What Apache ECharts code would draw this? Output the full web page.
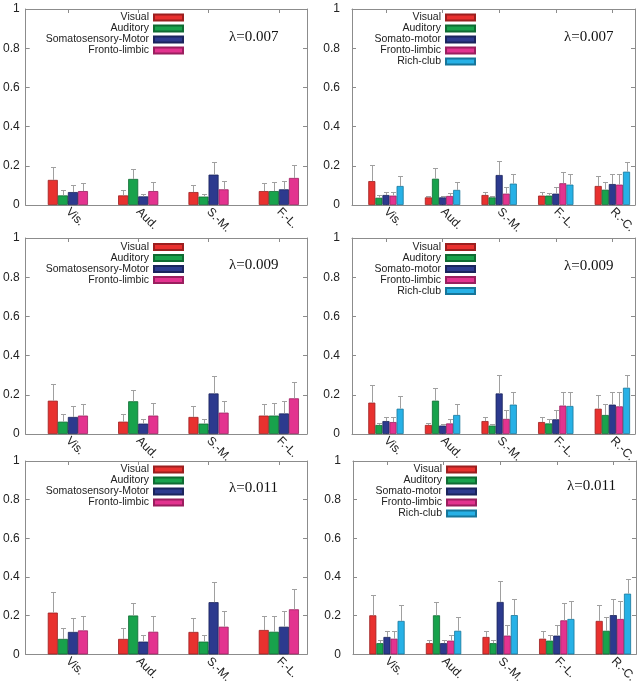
<!DOCTYPE html>
<html>
<head>
<meta charset="utf-8">
<script src="https://cdn.jsdelivr.net/npm/echarts@6/dist/echarts.min.js"></script>
<style>
html,body{margin:0;padding:0;background:#fff;}
#chart{width:640px;height:686px;}
</style>
</head>
<body>
<div id="chart"></div>
<script>
// ---- categories / labels ----
const cats4 = ['Vis.', 'Aud.', 'S.-M.', 'F.-L.'];
const cats5 = ['Vis.', 'Aud.', 'S.-M.', 'F.-L.', 'R.-C.'];
const names4 = ['Visual', 'Auditory', 'Somatosensory-Motor', 'Fronto-limbic'];
const names5 = ['Visual', 'Auditory', 'Somato-motor', 'Fronto-limbic', 'Rich-club'];
const yTicks = [0, 0.2, 0.4, 0.6, 0.8, 1];

// ---- λ=0.007, 4 groups (mean, upper error bound) ----
const L007_visual = [0.128, 0.049, 0.066, 0.071];
const L007_visual_hi = [0.194, 0.077, 0.102, 0.114];
const L007_auditory = [0.049, 0.133, 0.043, 0.071];
const L007_auditory_hi = [0.077, 0.184, 0.058, 0.117];
const L007_somato = [0.066, 0.044, 0.155, 0.080];
const L007_somato_hi = [0.102, 0.058, 0.219, 0.124];
const L007_fronto = [0.071, 0.071, 0.080, 0.138];
const L007_fronto_hi = [0.114, 0.117, 0.124, 0.204];

// ---- λ=0.007, 5 groups ----
const R007_visual = [0.122, 0.039, 0.051, 0.048, 0.097];
const R007_visual_hi = [0.205, 0.048, 0.066, 0.066, 0.148];
const R007_auditory = [0.037, 0.134, 0.039, 0.048, 0.078];
const R007_auditory_hi = [0.049, 0.189, 0.046, 0.063, 0.117];
const R007_somato = [0.051, 0.039, 0.153, 0.058, 0.107];
const R007_somato_hi = [0.066, 0.046, 0.224, 0.094, 0.160];
const R007_fronto = [0.048, 0.046, 0.058, 0.111, 0.104];
const R007_fronto_hi = [0.068, 0.063, 0.092, 0.168, 0.160];
const R007_rich = [0.097, 0.077, 0.109, 0.104, 0.170];
const R007_rich_hi = [0.148, 0.117, 0.160, 0.160, 0.221];

// ---- λ=0.009, 4 groups ----
const L009_visual = [0.170, 0.063, 0.087, 0.094];
const L009_visual_hi = [0.255, 0.104, 0.141, 0.153];
const L009_auditory = [0.063, 0.167, 0.053, 0.094];
const L009_auditory_hi = [0.104, 0.226, 0.078, 0.156];
const L009_somato = [0.087, 0.053, 0.207, 0.105];
const L009_somato_hi = [0.141, 0.078, 0.294, 0.170];
const L009_fronto = [0.094, 0.094, 0.109, 0.182];
const L009_fronto_hi = [0.153, 0.156, 0.170, 0.267];

// ---- λ=0.009, 5 groups ----
const R009_visual = [0.160, 0.046, 0.066, 0.061, 0.129];
const R009_visual_hi = [0.250, 0.058, 0.088, 0.088, 0.197];
const R009_auditory = [0.046, 0.170, 0.043, 0.054, 0.097];
const R009_auditory_hi = [0.058, 0.235, 0.053, 0.078, 0.155];
const R009_somato = [0.066, 0.043, 0.207, 0.075, 0.150];
const R009_somato_hi = [0.088, 0.053, 0.301, 0.122, 0.216];
const R009_fronto = [0.061, 0.054, 0.077, 0.145, 0.141];
const R009_fronto_hi = [0.088, 0.078, 0.124, 0.216, 0.216];
const R009_rich = [0.129, 0.097, 0.150, 0.143, 0.236];
const R009_rich_hi = [0.196, 0.155, 0.216, 0.216, 0.301];

// ---- λ=0.011, 4 groups ----
const L011_visual = [0.216, 0.080, 0.116, 0.126];
const L011_visual_hi = [0.321, 0.136, 0.189, 0.201];
const L011_auditory = [0.080, 0.201, 0.066, 0.117];
const L011_auditory_hi = [0.136, 0.267, 0.099, 0.199];
const L011_somato = [0.116, 0.066, 0.270, 0.143];
const L011_somato_hi = [0.189, 0.099, 0.376, 0.226];
const L011_fronto = [0.124, 0.117, 0.143, 0.233];
const L011_fronto_hi = [0.201, 0.199, 0.226, 0.338];

// ---- λ=0.011, 5 groups ----
const R011_visual = [0.202, 0.058, 0.090, 0.081, 0.173];
const R011_visual_hi = [0.308, 0.075, 0.122, 0.119, 0.254];
const R011_auditory = [0.058, 0.202, 0.058, 0.071, 0.122];
const R011_auditory_hi = [0.075, 0.273, 0.073, 0.102, 0.192];
const R011_somato = [0.090, 0.058, 0.271, 0.097, 0.203];
const R011_somato_hi = [0.122, 0.073, 0.381, 0.151, 0.285];
const R011_fronto = [0.081, 0.071, 0.097, 0.176, 0.183];
const R011_fronto_hi = [0.119, 0.102, 0.151, 0.264, 0.275];
const R011_rich = [0.173, 0.122, 0.203, 0.183, 0.314];
const R011_rich_hi = [0.253, 0.192, 0.285, 0.275, 0.392];

// ---- styling ----
const fills = ['#e8312f', '#18a24c', '#2c3a8e', '#e3338f', '#27b1e6'];
const borders = ['#9c1f1f', '#0f6b32', '#1b245c', '#9a1f5f', '#17769a'];
const frameColor = '#8c8c8c';
const errColor = '#a0a0a0';

const panels = [
  { grid: {left: 23, top: 9, width: 284, height: 196}, cats: cats4, names: names4, xr: [-0.6, 3.4],
    series: [[L007_visual, L007_visual_hi], [L007_auditory, L007_auditory_hi], [L007_somato, L007_somato_hi], [L007_fronto, L007_fronto_hi]],
    lambda: 'λ=0.007', lpos: {left: 229, top: 30}, leg: {right: 456, top: 12}, ymargin: 6 },
  { grid: {left: 352, top: 9, width: 283, height: 196}, cats: cats5, names: names5, xr: [-0.6, 4.4],
    series: [[R007_visual, R007_visual_hi], [R007_auditory, R007_auditory_hi], [R007_somato, R007_somato_hi], [R007_fronto, R007_fronto_hi], [R007_rich, R007_rich_hi]],
    lambda: 'λ=0.007', lpos: {left: 564, top: 30}, leg: {right: 164, top: 12}, ymargin: 12 },
  { grid: {left: 23, top: 238, width: 284, height: 196}, cats: cats4, names: names4, xr: [-0.6, 3.4],
    series: [[L009_visual, L009_visual_hi], [L009_auditory, L009_auditory_hi], [L009_somato, L009_somato_hi], [L009_fronto, L009_fronto_hi]],
    lambda: 'λ=0.009', lpos: {left: 229, top: 258}, leg: {right: 456, top: 241.5}, ymargin: 6 },
  { grid: {left: 352, top: 238, width: 283, height: 196}, cats: cats5, names: names5, xr: [-0.6, 4.4],
    series: [[R009_visual, R009_visual_hi], [R009_auditory, R009_auditory_hi], [R009_somato, R009_somato_hi], [R009_fronto, R009_fronto_hi], [R009_rich, R009_rich_hi]],
    lambda: 'λ=0.009', lpos: {left: 564, top: 259}, leg: {right: 164, top: 241.5}, ymargin: 12 },
  { grid: {left: 23, top: 461, width: 284, height: 196}, cats: cats4, names: names4, xr: [-0.6, 3.4],
    series: [[L011_visual, L011_visual_hi], [L011_auditory, L011_auditory_hi], [L011_somato, L011_somato_hi], [L011_fronto, L011_fronto_hi]],
    lambda: 'λ=0.011', lpos: {left: 229, top: 481}, leg: {right: 456, top: 464}, ymargin: 6 },
  { grid: {left: 353, top: 461, width: 283, height: 196}, cats: cats5, names: names5, xr: [-0.6, 4.4],
    series: [[R011_visual, R011_visual_hi], [R011_auditory, R011_auditory_hi], [R011_somato, R011_somato_hi], [R011_fronto, R011_fronto_hi], [R011_rich, R011_rich_hi]],
    lambda: 'λ=0.011', lpos: {left: 567, top: 479}, leg: {right: 163, top: 464}, ymargin: 12 }
];

const option = {
  animation: false,
  textStyle: {fontFamily: 'Liberation Sans, Arial, sans-serif'},
  grid: [], xAxis: [], yAxis: [], series: [], legend: [], title: []
};

function makeRender(n, frac) {
  return function (params, api) {
    const i = api.value(0), m = api.value(1), u = api.value(2), j = api.value(3);
    const p0 = api.coord([i, m]);
    const p1 = api.coord([i, u]);
    const band = api.size([1, 0])[0];
    const x = Math.round(p0[0] + (j - (n - 1) / 2) * band * frac) + 0.5;
    const yt = Math.round(p1[1]) + 0.5;
    return {
      type: 'group',
      children: [
        {type: 'line', shape: {x1: x, y1: p0[1], x2: x, y2: yt}, style: {stroke: errColor, lineWidth: 1}},
        {type: 'line', shape: {x1: x - 2.5, y1: yt, x2: x + 2.5, y2: yt}, style: {stroke: errColor, lineWidth: 1}}
      ]
    };
  };
}

panels.forEach(function (p, k) {
  const n = p.series.length;
  const frac = 1 / (n + 3);
  const catVals = p.cats.map(function (c, i) { return i; });
  option.grid.push(Object.assign({containLabel: false}, p.grid));
  // bottom x axis
  option.xAxis.push({
    type: 'value', gridIndex: k, min: p.xr[0], max: p.xr[1], position: 'bottom',
    axisLine: {show: true, onZero: false, lineStyle: {color: frameColor, width: 1}},
    axisTick: {show: true, inside: true, length: 4, customValues: catVals, lineStyle: {color: frameColor}},
    axisLabel: {show: true, customValues: catVals, rotate: -45, margin: 5, fontSize: 12, color: '#222',
      formatter: function (v) { return p.cats[Math.round(v)] || ''; }},
    splitLine: {show: false}
  });
  // top frame x axis
  option.xAxis.push({
    type: 'value', gridIndex: k, min: p.xr[0], max: p.xr[1], position: 'top',
    axisLine: {show: true, onZero: false, lineStyle: {color: frameColor, width: 1}},
    axisTick: {show: true, inside: true, length: 4, customValues: catVals, lineStyle: {color: frameColor}},
    axisLabel: {show: false}, splitLine: {show: false}
  });
  // left y axis
  option.yAxis.push({
    type: 'value', gridIndex: k, min: 0, max: 1, interval: 0.2, position: 'left',
    axisLine: {show: true, onZero: false, lineStyle: {color: frameColor, width: 1}},
    axisTick: {show: true, inside: true, length: 4, lineStyle: {color: frameColor}},
    axisLabel: {show: true, fontSize: 12, color: '#222', margin: p.ymargin},
    splitLine: {show: false}
  });
  // right frame y axis
  option.yAxis.push({
    type: 'value', gridIndex: k, min: 0, max: 1, interval: 0.2, position: 'right',
    axisLine: {show: true, onZero: false, lineStyle: {color: frameColor, width: 1}},
    axisTick: {show: true, inside: true, length: 4, lineStyle: {color: frameColor}},
    axisLabel: {show: false}, splitLine: {show: false}
  });

  const errData = [];
  p.series.forEach(function (s, j) {
    const vals = s[0], his = s[1];
    option.series.push({
      type: 'bar', name: p.names[j], xAxisIndex: 2 * k, yAxisIndex: 2 * k,
      data: vals.map(function (v, i) { return [i, v]; }),
      barWidth: (frac * 100) + '%', barGap: '0%',
      itemStyle: {color: fills[j], borderColor: borders[j], borderWidth: 0.8},
      z: 2
    });
    vals.forEach(function (v, i) { errData.push([i, v, his[i], j]); });
  });
  option.series.push({
    type: 'custom', name: 'err' + k, xAxisIndex: 2 * k, yAxisIndex: 2 * k,
    renderItem: makeRender(n, frac), data: errData,
    encode: {x: 0, y: [1, 2]}, z: 3, silent: true
  });

  option.legend.push({
    data: p.names, orient: 'vertical', align: 'right', right: p.leg.right, top: p.leg.top,
    padding: 0, itemGap: 0, itemWidth: 29, itemHeight: 6, icon: 'rect', selectedMode: false,
    textStyle: {fontSize: 10.5, lineHeight: 10.7, color: '#222'}
  });

  option.title.push({
    text: p.lambda, left: p.lpos.left, top: p.lpos.top, padding: 0,
    textStyle: {fontFamily: 'Liberation Serif, Times New Roman, serif', fontSize: 15, fontWeight: 'normal', color: '#111'}
  });
});

const chart = echarts.init(document.getElementById('chart'), null, {renderer: 'canvas'});
chart.setOption(option);
</script>
</body>
</html>
